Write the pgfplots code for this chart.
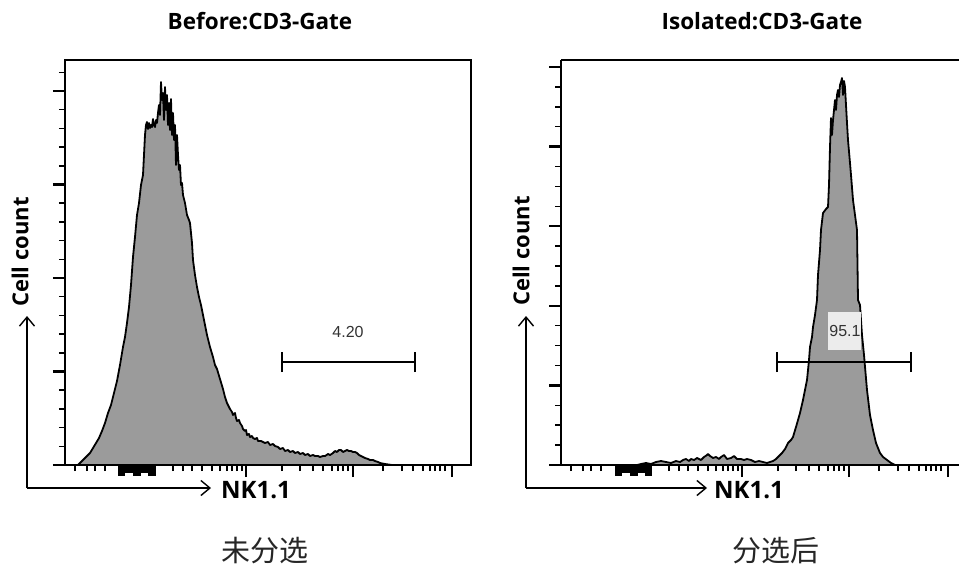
\documentclass[border=0pt]{standalone}
\usepackage{pgfplots}
\pgfplotsset{compat=1.18}
\usepackage{fontspec}
\setmainfont{Open Sans}
\newfontfamily\cjk{Noto Sans CJK SC}
\newfontfamily\arial{Liberation Sans}
\usetikzlibrary{arrows.meta}
\definecolor{histgray}{RGB}{155,155,155}
\definecolor{boxgray}{RGB}{236,236,236}

\pgfplotstableread{
x y
13 0
16 3
19 6
22 9
25 12
28 17
31 22
34 27
37 34
40 42
43 52
46 60
49 72
52 84
55 100
58 118
60 128
62 142
64 158
66 180
68 208
70 228
72 250
74 262
76 280
78 290
79 310
80 330
81 340
82 343
83 336
84 342
85 337
86 340
87 338
88 346
89 340
90 338
91 345
92 342
93 352
94 360
95 350
96 383
97 365
98 372
99 345
100 378
101 355
102 370
103 340
104 362
105 335
106 366
107 330
108 352
109 325
110 340
111 300
112 330
113 310
114 295
115 300
116 280
117 282
118 270
120 262
122 250
124 245
125 242
127 222
128 205
130 190
132 178
134 168
136 160
138 150
140 140
142 130
145 118
148 108
150 100
152 96
155 86
158 76
160 68
162 62
164 58
165 56
167 53
168 50
170 52
171 47
172 44
174 45
175 42
177 39
178 36
180 34
181 35
182 30
184 31
185 28
187 29
188 27
190 26
192 27
193 24
196 24
198 23
200 22
203 23
205 20
208 21
210 19
213 18
215 16
218 17
220 14
223 15
225 13
228 14
230 12
233 13
235 11
238 12
240 10
243 11
245 9
248 10
250 9
253 9
255 8
258 9
260 9
263 11
265 10
268 12
270 14
272 13
274 15
276 15
278 13
280 14
282 15
284 14
286 14
288 13
290 13
292 12
294 10
296 9
298 8
300 7
303 6
305 5
308 5
310 4
313 3
315 2
320 1
327 0
}\before

\pgfplotstableread{
x y
76 0
80 1
85 2
90 1
95 3
100 4
105 3
110 2
115 4
119 3
122 5
125 6
128 4
130 6
133 5
136 7
140 5
143 8
146 10
147 11
149 9
152 7
155 8
158 6
160 8
163 10
166 6
170 7
173 9
176 6
180 6
183 5
186 6
190 5
194 3
198 4
202 3
206 2
209 3
212 4
215 6
218 9
221 12
224 16
227 22
230 25
232 28
235 38
237 45
239 52
242 65
244 75
246 85
248 105
249 118
251 128
252 138
254 150
256 165
257 190
259 215
260 235
262 252
265 256
267 258
268 280
269 318
270 347
271 330
272 345
273 355
274 365
275 355
276 370
277 375
278 368
279 380
280 383
281 387
282 370
283 384
284 378
285 360
286 342
287 325
289 302
290 290
292 265
294 250
296 235
297 165
299 160
301 130
303 110
306 75
309 50
312 35
315 22
319 12
322 8
326 5
330 2
334 0
}\isolated

\pgfplotsset{
  flowaxis/.style={
    scale only axis, height=405pt,
    ymin=0, ymax=405,
    tick align=outside,
    xticklabels={}, yticklabels={},
    axis line style={line width=1.4pt},
    major tick length=12pt, minor tick length=6pt,
    major tick style={line width=2.5pt, black},
    minor tick style={line width=1.5pt, black},
    xtick={181,288,387},
    minor xtick={10,22,30,40,108,118,127,137,147,155,162,167,172,177,217,235,248,258,267,273,278,283,318,337,348,358,365,370,375,380},
    clip=false,
  },
}

\begin{document}
\begin{tikzpicture}
\useasboundingbox (0,0) rectangle (959pt,-567pt);

% ---------- left panel ----------
\begin{axis}[flowaxis, width=406pt, xmin=0, xmax=406,
  at={(65pt,-465pt)}, anchor=south west,
  xtick pos=bottom, ytick pos=left,
  ytick={0,93.5,187,280.5,374},
  minor ytick={18.7,37.4,56.1,74.8,112.2,130.9,149.6,168.3,205.7,224.4,243.1,261.8,299.2,317.9,336.6,355.3,392.7},
]
\addplot[draw=black, line width=1.8pt, line join=round, fill=histgray] table[x=x,y=y] {\before} \closedcycle;
\fill[black] ([yshift=-1pt]axis cs:53,0) rectangle ([yshift=-8pt]axis cs:91,0);
\fill[black] ([yshift=-1pt]axis cs:53,0) rectangle ([yshift=-11pt]axis cs:60,0);
\fill[black] ([yshift=-1pt]axis cs:68,0) rectangle ([yshift=-11pt]axis cs:76,0);
\fill[black] ([yshift=-1pt]axis cs:83,0) rectangle ([yshift=-11pt]axis cs:91,0);
\draw[line width=2.6pt] (axis cs:217,103) -- (axis cs:350,103);
\draw[line width=2.6pt] (axis cs:217,93) -- (axis cs:217,113);
\draw[line width=2.6pt] (axis cs:350,93) -- (axis cs:350,113);
\node[text=black!80, font=\arial\fontsize{16}{18}\selectfont] at (axis cs:283,133) {4.20};
\end{axis}

% ---------- right panel ----------
\begin{axis}[flowaxis, width=398pt, xmin=0, xmax=398,
  at={(561pt,-465pt)}, anchor=south west,
  axis x line*=box, axis y line*=left,
  xtick pos=bottom, ytick pos=left,
  ytick={0,79.6,159.2,238.8,318.4,398},
  minor ytick={19.9,39.8,59.7,99.5,119.4,139.3,179.1,199,218.9,258.7,278.6,298.5,338.3,358.2,378.1},
]
\addplot[draw=black, line width=1.8pt, line join=round, fill=histgray] table[x=x,y=y] {\isolated} \closedcycle;
\fill[black] ([yshift=-1pt]axis cs:54,0) rectangle ([yshift=-8pt]axis cs:91,0);
\fill[black] ([yshift=-1pt]axis cs:54,0) rectangle ([yshift=-11pt]axis cs:61,0);
\fill[black] ([yshift=-1pt]axis cs:69,0) rectangle ([yshift=-11pt]axis cs:77,0);
\fill[black] ([yshift=-1pt]axis cs:84,0) rectangle ([yshift=-11pt]axis cs:91,0);
\draw[line width=2.6pt] (axis cs:216,103) -- (axis cs:350,103);
\draw[line width=2.6pt] (axis cs:216,93) -- (axis cs:216,113);
\draw[line width=2.6pt] (axis cs:350,93) -- (axis cs:350,113);
\fill[boxgray] (axis cs:267,115) rectangle (axis cs:300,153);
\node[text=black!80, font=\arial\fontsize{16}{18}\selectfont] at (axis cs:284,134) {95.1};
\end{axis}

% ---------- titles ----------
\node[font=\bfseries\fontsize{22.5}{26}\selectfont] at (260pt,-21pt) {Before:CD3-Gate};
\node[font=\bfseries\fontsize{22.5}{26}\selectfont] at (762pt,-21pt) {Isolated:CD3-Gate};

% ---------- y labels ----------
\node[rotate=90, font=\bfseries\fontsize{22}{26}\selectfont] at (20pt,-252pt) {Cell count};
\node[rotate=90, font=\bfseries\fontsize{22}{26}\selectfont] at (521pt,-251pt) {Cell count};

% ---------- arrows ----------
\draw[line width=1.4pt, -{Straight Barb[length=9pt,width=15pt,line width=1.4pt]}] (27pt,-488pt) -- (27pt,-316pt);
\draw[line width=1.4pt, -{Straight Barb[length=9pt,width=15pt,line width=1.4pt]}] (27pt,-488pt) -- (211pt,-488pt);
\draw[line width=1.4pt, -{Straight Barb[length=9pt,width=15pt,line width=1.4pt]}] (526pt,-488pt) -- (526pt,-316pt);
\draw[line width=1.4pt, -{Straight Barb[length=9pt,width=15pt,line width=1.4pt]}] (526pt,-488pt) -- (707pt,-488pt);

\node[anchor=west, inner sep=0pt, font=\bfseries\fontsize{24}{26}\selectfont] at (221pt,-490pt) {NK1.1};
\node[anchor=west, inner sep=0pt, font=\bfseries\fontsize{24}{26}\selectfont] at (714pt,-490pt) {NK1.1};

% ---------- captions ----------
\node[font=\cjk\fontsize{29}{32}\selectfont, text=black!85] at (265pt,-551pt) {未分选};
\node[font=\cjk\fontsize{29}{32}\selectfont, text=black!85] at (776pt,-551pt) {分选后};
\end{tikzpicture}
\end{document}
